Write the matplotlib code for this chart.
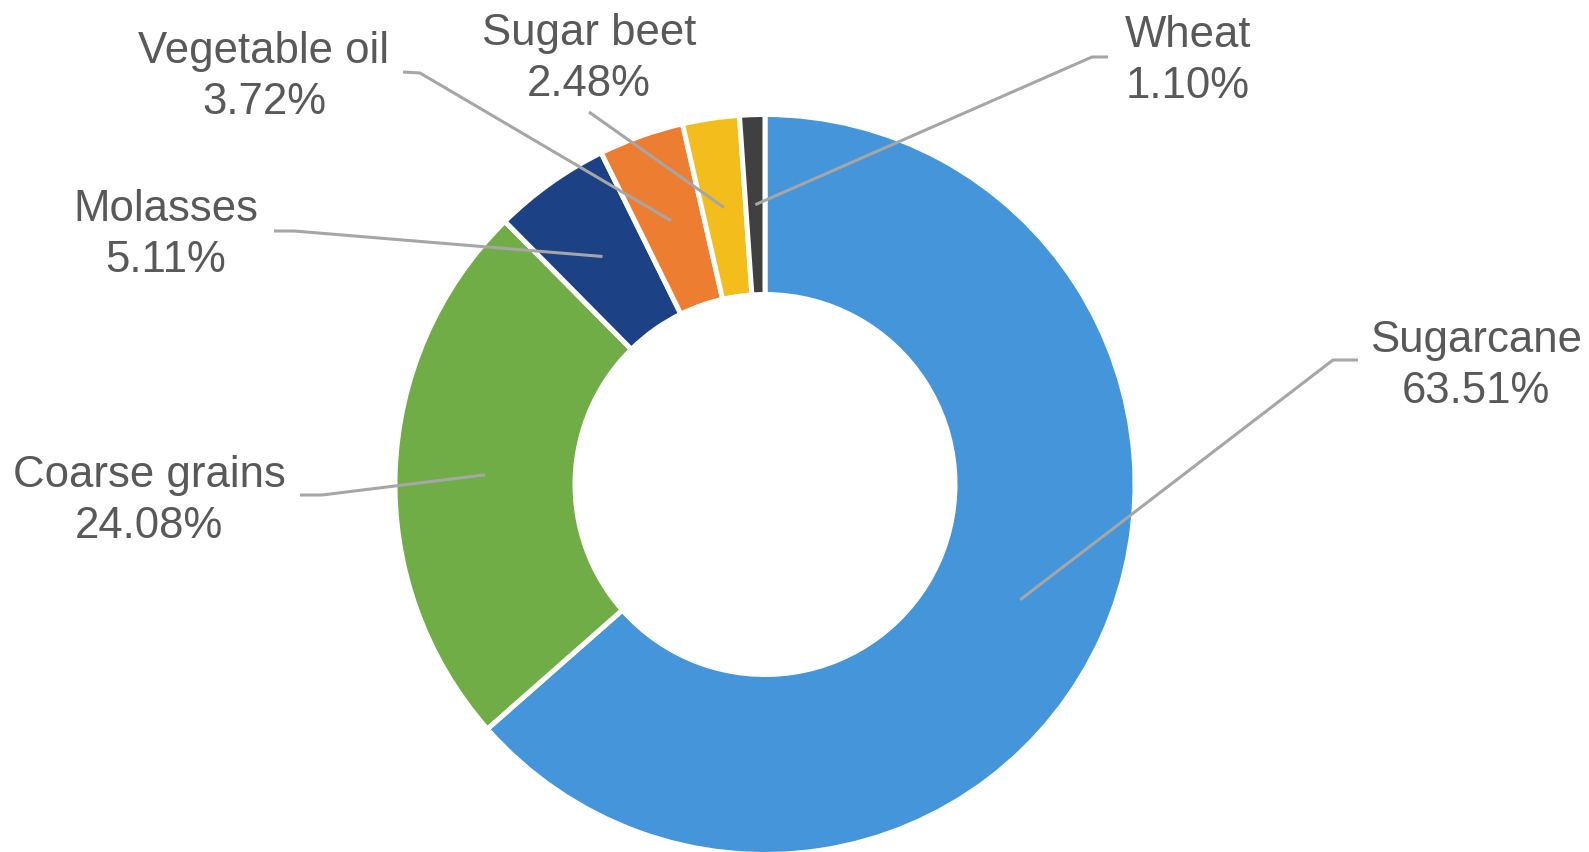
import numpy as np
import matplotlib.pyplot as plt

W, H = 1589, 852

categories = ["Sugarcane", "Coarse grains", "Molasses", "Vegetable oil", "Sugar beet", "Wheat"]
shares = [63.51, 24.08, 5.11, 3.72, 2.48, 1.10]
colours = ["#4495DA", "#70AD47", "#1C4185", "#ED7D31", "#F3BD1B", "#404040"]

# label centre (px, y down) and the elbow where the leader leaves the label
label_pos = {
    "Sugarcane": (1476, 366),
    "Coarse grains": (149, 501),
    "Molasses": (166, 235),
    "Vegetable oil": (264, 77),
    "Sugar beet": (589, 59),
    "Wheat": (1188, 61),
}
leader_start = {
    "Sugarcane": [(1358, 360), (1333, 360)],
    "Coarse grains": [(300, 495), (322, 495)],
    "Molasses": [(274, 231), (294, 231)],
    "Vegetable oil": [(403, 72), (420, 73)],
    "Sugar beet": [(589, 112)],
    "Wheat": [(1108, 57), (1092, 57)],
}

plt.rcParams["font.family"] = ["Liberation Sans", "DejaVu Sans"]

fig = plt.figure(figsize=(W / 100, H / 100), dpi=100)
ax = fig.add_axes([0, 0, 1, 1])

cx, cy = 765, H - 484.5
r_out, r_in = 370, 190
ax.pie(shares, colors=colours, startangle=90, counterclock=False,
       center=(cx, cy), radius=r_out, frame=True,
       wedgeprops=dict(width=r_out - r_in, edgecolor="white", linewidth=3.6))
ax.set_xlim(0, W)
ax.set_ylim(0, H)
ax.set_aspect("equal")
ax.axis("off")

total = sum(shares)
r_mid = (r_out + r_in) / 2
cum = 0.0
for name, val in zip(categories, shares):
    mid = 90 - (cum + val / 2) / total * 360
    cum += val
    ex = cx + r_mid * np.cos(np.radians(mid))
    ey = cy + r_mid * np.sin(np.radians(mid))
    pts = [(x, H - y) for x, y in leader_start[name]] + [(ex, ey)]
    xs, ys = zip(*pts)
    ax.plot(xs, ys, color="#A6A6A6", lw=2.2, solid_capstyle="butt", zorder=3)
    lx, ly = label_pos[name]
    ax.text(lx, H - ly, f"{name}\n{val:.2f}%", ha="center", va="center",
            multialignment="center", fontsize=31.5, color="#595959",
            linespacing=1.32)

fig.savefig("out.png", dpi=100, facecolor="white")
